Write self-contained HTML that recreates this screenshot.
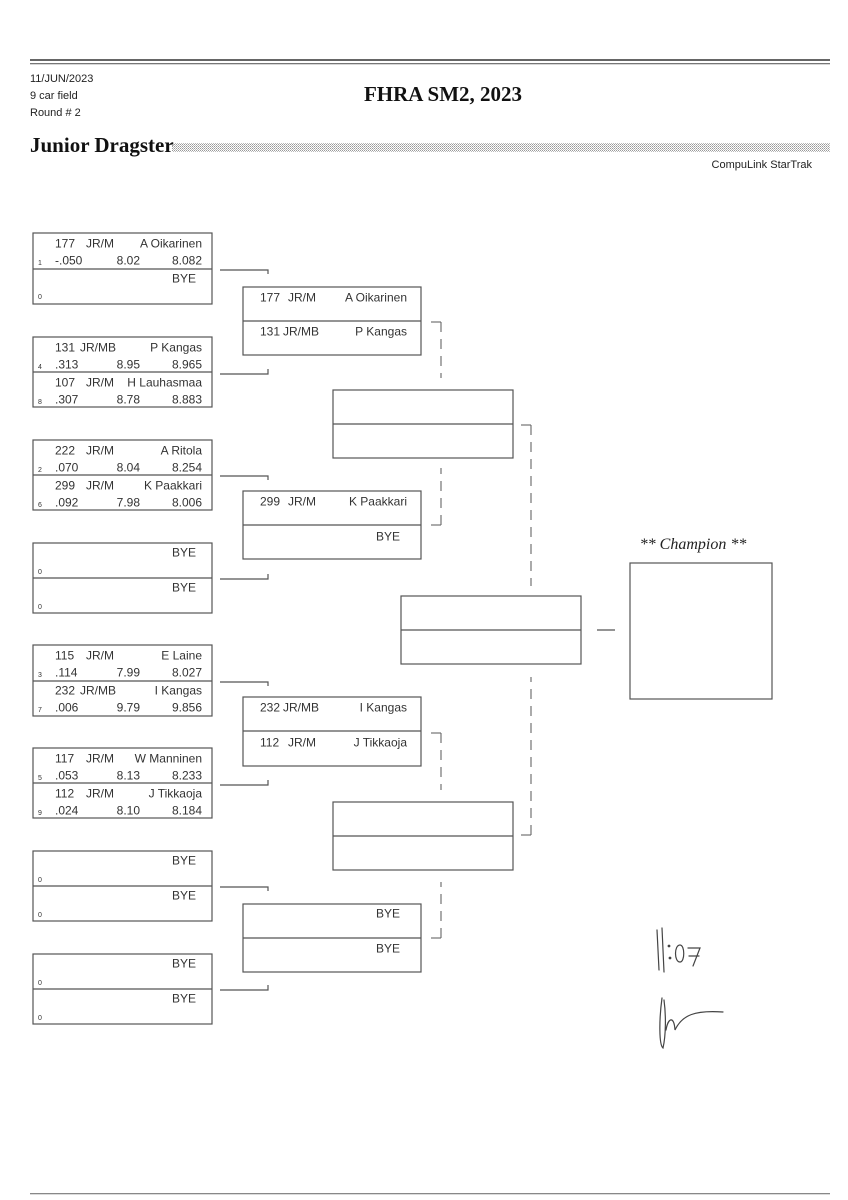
<!DOCTYPE html>
<html><head><meta charset="utf-8"><style>
html,body{margin:0;padding:0;background:#fff;width:848px;height:1200px;overflow:hidden}
svg{display:block}
.t{font-family:"Liberation Sans",sans-serif;font-size:12px;fill:#333}
.s{font-family:"Liberation Sans",sans-serif;font-size:7px;fill:#333}
.h{font-family:"Liberation Sans",sans-serif;font-size:11px;fill:#222}
</style></head><body>
<svg width="848" height="1200" viewBox="0 0 848 1200" xmlns="http://www.w3.org/2000/svg">
<defs><pattern id="dots" width="2" height="2" patternUnits="userSpaceOnUse"><rect width="1" height="1" fill="#999"/><rect x="1" y="1" width="1" height="1" fill="#bbb"/></pattern></defs>
<rect x="30" y="59" width="800" height="2" fill="#666"/>
<rect x="30" y="63" width="800" height="1.3" fill="#777"/>
<text class="h" x="30" y="82">11/JUN/2023</text>
<text class="h" x="30" y="99">9 car field</text>
<text class="h" x="30" y="116">Round # 2</text>
<text x="443" y="101" text-anchor="middle" font-family="Liberation Serif,serif" font-weight="bold" font-size="21" fill="#111">FHRA SM2, 2023</text>
<text x="30" y="152" font-family="Liberation Serif,serif" font-weight="bold" font-size="21" fill="#111">Junior Dragster</text>
<rect x="172" y="143" width="658" height="9" fill="url(#dots)"/>
<text class="h" x="812" y="168" text-anchor="end">CompuLink StarTrak</text>
<rect x="30" y="1193" width="800" height="1.3" fill="#888"/>

<g fill="none" stroke="#555" stroke-width="1.2">
<rect x="33" y="233" width="179" height="71"/><line x1="33" y1="269" x2="212" y2="269"/>
<rect x="33" y="337" width="179" height="70"/><line x1="33" y1="372" x2="212" y2="372"/>
<rect x="33" y="440" width="179" height="70"/><line x1="33" y1="475" x2="212" y2="475"/>
<rect x="33" y="543" width="179" height="70"/><line x1="33" y1="578" x2="212" y2="578"/>
<rect x="33" y="645" width="179" height="71"/><line x1="33" y1="681" x2="212" y2="681"/>
<rect x="33" y="748" width="179" height="70"/><line x1="33" y1="783" x2="212" y2="783"/>
<rect x="33" y="851" width="179" height="70"/><line x1="33" y1="886" x2="212" y2="886"/>
<rect x="33" y="954" width="179" height="70"/><line x1="33" y1="989" x2="212" y2="989"/>
<path d="M220 270H268V274"/><path d="M220 374H268V369"/>
<path d="M220 476H268V480"/><path d="M220 579H268V574"/>
<path d="M220 682H268V686"/><path d="M220 785H268V780"/>
<path d="M220 887H268V891"/><path d="M220 990H268V985"/>
<rect x="243" y="287" width="178" height="68"/><line x1="243" y1="321" x2="421" y2="321"/>
<rect x="243" y="491" width="178" height="68"/><line x1="243" y1="525" x2="421" y2="525"/>
<rect x="243" y="697" width="178" height="69"/><line x1="243" y1="731" x2="421" y2="731"/>
<rect x="243" y="904" width="178" height="68"/><line x1="243" y1="938" x2="421" y2="938"/>
<rect x="333" y="390" width="180" height="68"/><line x1="333" y1="424" x2="513" y2="424"/>
<rect x="333" y="802" width="180" height="68"/><line x1="333" y1="836" x2="513" y2="836"/>
<rect x="401" y="596" width="180" height="68"/><line x1="401" y1="630" x2="581" y2="630"/>
<line x1="597" y1="630" x2="615" y2="630"/>
<rect x="630" y="563" width="142" height="136"/>
</g>
<g fill="none" stroke="#666" stroke-width="1.1">
<path d="M431 322H441"/><path d="M441 322V378" stroke-dasharray="10 7"/>
<path d="M431 525H441"/><path d="M441 525V468" stroke-dasharray="10 7"/>
<path d="M431 733H441"/><path d="M441 733V790" stroke-dasharray="10 7"/>
<path d="M431 938H441"/><path d="M441 938V882" stroke-dasharray="10 7"/>
<path d="M521 425H531"/><path d="M531 425V586" stroke-dasharray="10 7"/>
<path d="M521 835H531"/><path d="M531 835V677" stroke-dasharray="10 7"/>
</g>
<text x="693" y="549" text-anchor="middle" font-family="Liberation Serif,serif" font-style="italic" font-size="16" fill="#222">** Champion **</text>

<g class="t" transform="translate(0,1.5)">
<text x="55" y="246">177</text><text x="86" y="246">JR/M</text><text x="202" y="246" text-anchor="end">A Oikarinen</text>
<text x="55" y="263">-.050</text><text x="140" y="263" text-anchor="end">8.02</text><text x="202" y="263" text-anchor="end">8.082</text>
<text x="196" y="281" text-anchor="end">BYE</text>

<text x="55" y="350">131</text><text x="80" y="350">JR/MB</text><text x="202" y="350" text-anchor="end">P Kangas</text>
<text x="55" y="367">.313</text><text x="140" y="367" text-anchor="end">8.95</text><text x="202" y="367" text-anchor="end">8.965</text>
<text x="55" y="385">107</text><text x="86" y="385">JR/M</text><text x="202" y="385" text-anchor="end">H Lauhasmaa</text>
<text x="55" y="402">.307</text><text x="140" y="402" text-anchor="end">8.78</text><text x="202" y="402" text-anchor="end">8.883</text>

<text x="55" y="453">222</text><text x="86" y="453">JR/M</text><text x="202" y="453" text-anchor="end">A Ritola</text>
<text x="55" y="470">.070</text><text x="140" y="470" text-anchor="end">8.04</text><text x="202" y="470" text-anchor="end">8.254</text>
<text x="55" y="488">299</text><text x="86" y="488">JR/M</text><text x="202" y="488" text-anchor="end">K Paakkari</text>
<text x="55" y="505">.092</text><text x="140" y="505" text-anchor="end">7.98</text><text x="202" y="505" text-anchor="end">8.006</text>

<text x="196" y="555" text-anchor="end">BYE</text>
<text x="196" y="590" text-anchor="end">BYE</text>

<text x="55" y="658">115</text><text x="86" y="658">JR/M</text><text x="202" y="658" text-anchor="end">E Laine</text>
<text x="55" y="675">.114</text><text x="140" y="675" text-anchor="end">7.99</text><text x="202" y="675" text-anchor="end">8.027</text>
<text x="55" y="693">232</text><text x="80" y="693">JR/MB</text><text x="202" y="693" text-anchor="end">I Kangas</text>
<text x="55" y="710">.006</text><text x="140" y="710" text-anchor="end">9.79</text><text x="202" y="710" text-anchor="end">9.856</text>

<text x="55" y="761">117</text><text x="86" y="761">JR/M</text><text x="202" y="761" text-anchor="end">W Manninen</text>
<text x="55" y="778">.053</text><text x="140" y="778" text-anchor="end">8.13</text><text x="202" y="778" text-anchor="end">8.233</text>
<text x="55" y="796">112</text><text x="86" y="796">JR/M</text><text x="202" y="796" text-anchor="end">J Tikkaoja</text>
<text x="55" y="813">.024</text><text x="140" y="813" text-anchor="end">8.10</text><text x="202" y="813" text-anchor="end">8.184</text>

<text x="196" y="863" text-anchor="end">BYE</text>
<text x="196" y="898" text-anchor="end">BYE</text>
<text x="196" y="966" text-anchor="end">BYE</text>
<text x="196" y="1001" text-anchor="end">BYE</text>

<text x="260" y="300">177</text><text x="288" y="300">JR/M</text><text x="407" y="300" text-anchor="end">A Oikarinen</text>
<text x="260" y="334">131</text><text x="283" y="334">JR/MB</text><text x="407" y="334" text-anchor="end">P Kangas</text>
<text x="260" y="504">299</text><text x="288" y="504">JR/M</text><text x="407" y="504" text-anchor="end">K Paakkari</text>
<text x="400" y="539" text-anchor="end">BYE</text>
<text x="260" y="710">232</text><text x="283" y="710">JR/MB</text><text x="407" y="710" text-anchor="end">I Kangas</text>
<text x="260" y="745">112</text><text x="288" y="745">JR/M</text><text x="407" y="745" text-anchor="end">J Tikkaoja</text>
<text x="400" y="916" text-anchor="end">BYE</text>
<text x="400" y="951" text-anchor="end">BYE</text>
</g>
<g class="s">
<text x="38" y="265">1</text><text x="38" y="299">0</text>
<text x="38" y="369">4</text><text x="38" y="404">8</text>
<text x="38" y="472">2</text><text x="38" y="507">6</text>
<text x="38" y="574">0</text><text x="38" y="609">0</text>
<text x="38" y="677">3</text><text x="38" y="712">7</text>
<text x="38" y="780">5</text><text x="38" y="815">9</text>
<text x="38" y="882">0</text><text x="38" y="917">0</text>
<text x="38" y="985">0</text><text x="38" y="1020">0</text>
</g>
<g fill="none" stroke="#444" stroke-width="1.2" stroke-linecap="round">
<path d="M657 930L659 970M662 928L664 972"/>
<circle cx="669" cy="946" r="0.8" fill="#444"/><circle cx="670" cy="958" r="0.8" fill="#444"/>
<path d="M680 945C674 945 674 962 680 962C685 962 685 945 680 945Z"/>
<path d="M688 948H700L693 966M689 956H699"/>
<path d="M662 998C659 1020 659 1045 663 1048C666 1035 666 1015 664 1000M666 1030C668 1018 674 1015 675 1030C682 1015 695 1010 723 1012"/>
</g>
</svg>
</body></html>
